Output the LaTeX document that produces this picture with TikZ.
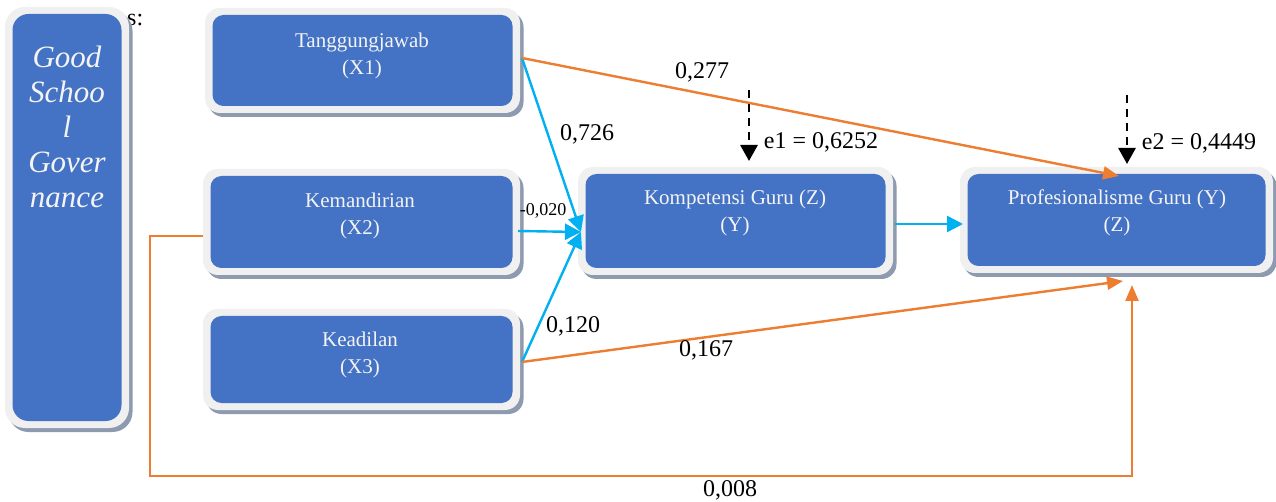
\documentclass[tikz,border=0pt]{standalone}
\usepackage{fontspec}
\setmainfont{Liberation Serif}
\usetikzlibrary{arrows.meta}
\definecolor{boxblue}{HTML}{4472C4}
\definecolor{boxgray}{HTML}{F0F0F0}
\definecolor{shadowgray}{HTML}{8E9AB0}
\definecolor{linkblue}{HTML}{00B0F0}
\definecolor{linkorange}{HTML}{ED7D31}
\definecolor{txtwhite}{HTML}{F4F4F4}
\newcommand\mkbox[6]{% name, cx, cy, w, h, radius
  \node[shadowbox, rounded corners=#6, minimum width=#4, minimum height=#5] (#1s) at (#2+3.5,#3+4) {};
  \node[outerbox, rounded corners=#6, minimum width=#4, minimum height=#5] (#1o) at (#2,#3) {};
  \node[innerbox, rounded corners=#6-4, minimum width=#4-15, minimum height=#5-14] (#1) at (#2,#3) {};
}
\begin{document}
\begin{tikzpicture}[x=1pt,y=-1pt,
  shadowbox/.style={rectangle, fill=shadowgray, draw=none, inner sep=0pt, outer sep=0pt},
  outerbox/.style={rectangle, fill=boxgray, draw=none, inner sep=0pt, outer sep=0pt},
  innerbox/.style={rectangle, fill=boxblue, draw=none, inner sep=0pt, outer sep=0pt},
  boxtext/.style={text=txtwhite, align=center, font=\fontsize{21}{27}\selectfont, inner sep=0pt},
  lbl/.style={text=black, font=\fontsize{24}{28}\selectfont, inner sep=0pt},
  bluearrow/.style={draw=linkblue, line width=2.4pt, -{Triangle[length=16pt,width=16pt]}},
  orangearrow/.style={draw=linkorange, line width=2.4pt, -{Triangle[length=16pt,width=13pt]}},
  errarrow/.style={draw=black, line width=2.8pt, dash pattern=on 8pt off 6pt, -{Triangle[length=16pt,width=17pt]}}
]
\useasboundingbox (0,0) rectangle (1276,502);
\fill[white] (0,0) rectangle (1276,502);

% partially hidden caption text
\node[lbl, anchor=west] (cap) at (127,20) {s:};

% boxes
\mkbox{gsg}{67}{217.5}{124}{421}{20pt}
\mkbox{xa}{362.5}{60.5}{315}{105}{15pt}
\mkbox{xb}{361.5}{222}{317}{106}{15pt}
\mkbox{xc}{361.5}{359.5}{317}{101}{15pt}
\mkbox{zz}{735.5}{221}{315}{108}{15pt}
\mkbox{yy}{1116.5}{220}{313}{106}{15pt}

% box texts
\node[text=txtwhite, align=center, inner sep=0pt, font=\fontsize{31}{35}\selectfont\itshape] (gsgt) at (67,127) {Good\\Schoo\\l\\Gover\\nance};
\node[boxtext] (xat) at (362,56) {Tanggungjawab\\(X1)};
\node[boxtext] (xbt) at (360,216) {Kemandirian\\(X2)};
\node[boxtext] (xct) at (360,355) {Keadilan\\(X3)};
\node[boxtext] (zzt) at (735,213) {Kompetensi Guru (Z)\\(Y)};
\node[boxtext] (yyt) at (1117,213) {Profesionalisme Guru (Y)\\(Z)};

% coordinates
\coordinate (conv) at (581,232);
\coordinate (xaout) at (522,58);
\coordinate (xbout) at (518,231);
\coordinate (xcout) at (522,362);
\coordinate (ytop) at (1119,176);
\coordinate (ybot) at (1123,281);
\coordinate (xbleft) at (203,236);
\coordinate (c1) at (150,236);
\coordinate (c2) at (150,476);
\coordinate (c3) at (1132,476);
\coordinate (ylow) at (1132,285);
\coordinate (zout) at (895,224);
\coordinate (yin) at (963,224);
\coordinate (e1a) at (749,90);
\coordinate (e1b) at (749,161);
\coordinate (e2a) at (1127,95);
\coordinate (e2b) at (1127,164);

% blue connectors
\draw[bluearrow] (xaout) -- (conv);
\draw[bluearrow] (xbout) -- (conv);
\draw[bluearrow] (xcout) -- (conv);
\draw[bluearrow] (zout) -- (yin);

% orange connectors
\draw[orangearrow] (xaout) -- (ytop);
\draw[orangearrow] (xcout) -- (ybot);
\draw[orangearrow] (xbleft) -- (c1) -- (c2) -- (c3) -- (ylow);

% error arrows
\draw[errarrow] (e1a) -- (e1b);
\draw[errarrow] (e2a) -- (e2b);

% labels
\node[lbl] (l277) at (702,72) {0,277};
\node[lbl] (l726) at (587,134) {0,726};
\node[lbl] (le1) at (821,142) {e1 = 0,6252};
\node[lbl] (le2) at (1199,143) {e2 = 0,4449};
\node[lbl, font=\fontsize{18}{20}\selectfont] (l020) at (543,211) {-0,020};
\node[lbl] (l120) at (573,326) {0,120};
\node[lbl] (l167) at (706,350) {0,167};
\node[lbl] (l008) at (730,490) {0,008};
\end{tikzpicture}
\end{document}
